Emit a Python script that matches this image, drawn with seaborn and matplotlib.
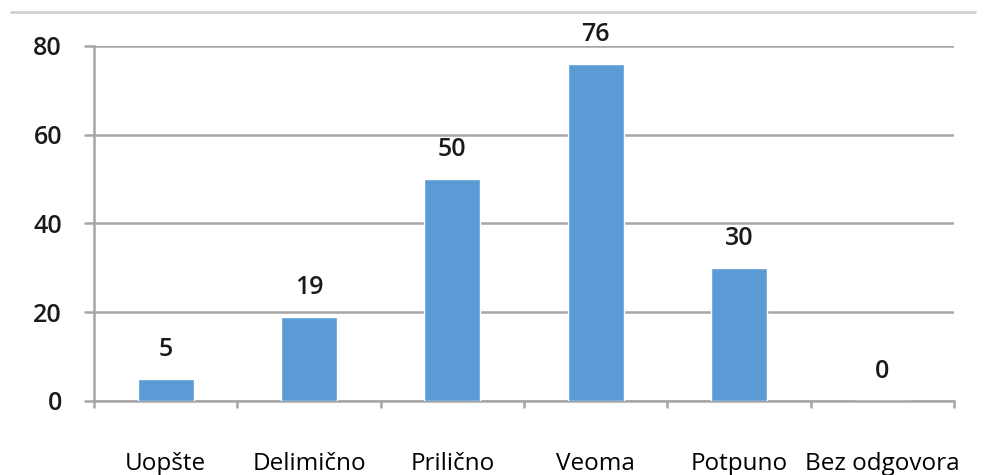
import matplotlib
matplotlib.use("Agg")
import matplotlib.pyplot as plt
import seaborn as sns
import pandas as pd
from matplotlib.lines import Line2D

categories = ["Uopšte", "Delimično", "Prilično", "Veoma", "Potpuno", "Bez odgovora"]
values = [5, 19, 50, 76, 30, 0]
y_ticks = [0, 20, 40, 60, 80]

df = pd.DataFrame({"Kategorija": categories, "Broj": values})

sns.set_style("white")
plt.rcParams["font.family"] = ["Open Sans", "DejaVu Sans"]

fig = plt.figure(figsize=(9.94, 4.75), dpi=100)
ax = fig.add_axes([0.0946, 0.1558, 0.8652, 0.7474])

sns.barplot(data=df, x="Kategorija", y="Broj", color="#5B9BD5", width=0.39,
            saturation=1, ax=ax, zorder=3)

ax.set_ylim(0, 80)
ax.set_xlim(-0.5, len(categories) - 0.5)
ax.set_yticks(y_ticks)
ax.set_yticklabels([str(t) for t in y_ticks], fontsize=18, color="#1a1a1a", fontweight="semibold")
ax.tick_params(axis="y", left=True, length=7, width=1.8, color="#A6A6A6", pad=16)
ax.yaxis.grid(True, color="#A6A6A6", linewidth=1.8, zorder=0)
ax.set_axisbelow(True)

# category labels without ticks at centers, ticks at boundaries
ax.set_xticks(range(len(categories)))
ax.set_xticklabels(categories)
ax.set_xticks([i - 0.5 for i in range(len(categories) + 1)], minor=True)
ax.tick_params(axis="x", which="major", bottom=True, length=0, labelsize=17.5, pad=37, labelcolor="#000000")
ax.tick_params(axis="x", which="minor", bottom=True, length=5, width=1.8, color="#A6A6A6", direction="out")

ax.set_xlabel("")
ax.set_ylabel("")

for s in ["top", "right"]:
    ax.spines[s].set_visible(False)
ax.spines["left"].set_color("#A6A6A6")
ax.spines["left"].set_linewidth(1.8)
ax.spines["bottom"].set_color("#A6A6A6")
ax.spines["bottom"].set_linewidth(1.8)

for i, v in enumerate(values):
    ax.annotate(str(v), (i, v), xytext=(0, 21), textcoords="offset points",
                ha="center", va="center", fontsize=18, fontweight="semibold",
                color="#1a1a1a")

fig.add_artist(Line2D([0.011, 0.981], [0.975, 0.975], transform=fig.transFigure,
                      color="#D0D0D0", linewidth=2))

fig.savefig("out.png", dpi=100)
